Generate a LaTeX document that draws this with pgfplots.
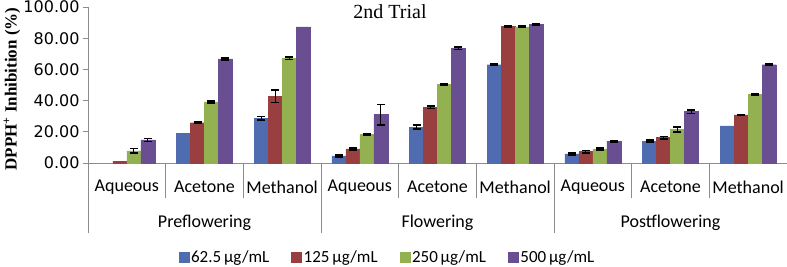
\documentclass[border=0pt]{standalone}
\usepackage{fontspec}
\setmainfont{Liberation Serif}
\newfontfamily\carlito{Carlito}
\newfontfamily\dejavu{DejaVu Sans}
\usepackage{pgfplots}
\pgfplotsset{compat=1.18}
\usepackage{pgfplotstable}
\definecolor{cA}{HTML}{4F6CB0}
\definecolor{cB}{HTML}{9A3F3F}
\definecolor{cC}{HTML}{93B151}
\definecolor{cD}{HTML}{6A4E92}
\definecolor{axgray}{HTML}{8C8C8C}
% x: 0-2 Preflowering, 3-5 Flowering, 6-8 Postflowering (Aqueous, Acetone, Methanol)
\pgfplotstableread{
x y e
1 19.0 0
2 28.6 1.2
3 4.5 0.5
4 23.0 1.3
5 63.0 0.6
6 5.8 0.6
7 14.0 0.6
8 23.8 0
}\tA
\pgfplotstableread{
x y e
0 1.2 0
1 25.8 0.4
2 42.8 4.0
3 9.0 0.5
4 35.8 0.8
5 87.4 0.6
6 7.3 0.7
7 16.3 0.8
8 30.8 0.4
}\tB
\pgfplotstableread{
x y e
0 7.8 1.5
1 39.2 0.7
2 67.2 0.9
3 18.2 0.4
4 50.2 0.4
5 87.3 0.5
6 9.0 0.5
7 21.5 1.5
8 43.8 0.6
}\tC
\pgfplotstableread{
x y e
0 14.8 1.0
1 66.7 0.5
2 87.3 0
3 31.0 6.6
4 73.5 0.7
5 88.9 0.6
6 14.0 0.5
7 32.9 1.2
8 63.0 0.6
}\tD
% error bars only where visible
\pgfplotstableread{
x y e
2 28.6 1.2
3 4.5 0.5
4 23.0 1.3
5 63.0 0.6
6 5.8 0.6
7 14.0 0.6
}\eA
\pgfplotstableread{
x y e
1 25.8 0.4
2 42.8 4.0
3 9.0 0.5
4 35.8 0.8
5 87.4 0.6
6 7.3 0.7
7 16.3 0.8
8 30.8 0.4
}\eB
\pgfplotstableread{
x y e
0 7.8 1.5
1 39.2 0.7
2 67.2 0.9
3 18.2 0.4
4 50.2 0.4
5 87.3 0.5
6 9.0 0.5
7 21.5 1.5
8 43.8 0.6
}\eC
\pgfplotstableread{
x y e
0 14.8 1.0
1 66.7 0.5
3 31.0 6.6
4 73.5 0.7
5 88.9 0.6
6 14.0 0.5
7 32.9 1.2
8 63.0 0.6
}\eD
\pgfplotsset{
  errstyle/.style={ybar, bar width=0.18, draw=none, fill=none, forget plot,
    error bars/y dir=both, error bars/y explicit,
    error bars/error bar style={draw=black, line width=1pt},
    error bars/error mark options={draw=black, rotate=90, mark size=4pt, line width=1.6pt}},
}
\begin{document}
\begin{tikzpicture}
\path[use as bounding box] (0,0) rectangle (787pt,267pt);
\begin{axis}[
  at={(88pt,104pt)}, anchor=south west,
  scale only axis, width=699pt, height=156pt,
  xmin=-0.5, xmax=8.5, ymin=0, ymax=100,
  axis x line=bottom, axis y line=left,
  axis line style={-, draw=axgray, line width=0.8pt},
  clip=false,
  ybar=0pt,
  xtick={0,...,8},
  xticklabels={Aqueous,Acetone,Methanol,Aqueous,Acetone,Methanol,Aqueous,Acetone,Methanol},
  major x tick style={draw=none},
  xticklabel style={font=\carlito\fontsize{18}{21}\selectfont, anchor=center, yshift=-19pt},
  ytick={0,20,...,100},
  tick align=outside, major tick length=5pt,
  major y tick style={draw=axgray, line width=0.8pt},
  yticklabel style={font=\dejavu\fontsize{16}{19}\selectfont, xshift=0pt},
  /pgf/number format/assume math mode=true,
  yticklabel={\pgfmathprintnumber[fixed, fixed zerofill, precision=2]{\tick}},
  ylabel={\textbf{DPPH\textsuperscript{+} Inhibition (\%)}},
  ylabel style={at={(axis description cs:-0.1087,0.474)}, anchor=center, font=\fontsize{17}{20}\selectfont},
  title={2nd Trial},
  title style={at={(axis description cs:0.432,0.93)}, anchor=center, font=\fontsize{20}{24}\selectfont},
  legend columns=4,
  legend style={at={(axis description cs:0.4285,-0.603)}, anchor=center, draw=none,
    font=\carlito\fontsize{17}{20}\selectfont,
    /tikz/every odd column/.append style={column sep=0pt},
    /tikz/every even column/.append style={column sep=20pt}},
  legend image code/.code={\fill[#1] (0pt,-5pt) rectangle (10pt,5pt);},
]
\addplot[ybar, bar width=0.18, bar shift=-0.27, fill=cA, draw=cA] table[x=x,y=y] {\tA};
\addlegendentry{62.5\,µg/mL}
\addplot[ybar, bar width=0.18, bar shift=-0.09, fill=cB, draw=cB] table[x=x,y=y] {\tB};
\addlegendentry{125\,µg/mL}
\addplot[ybar, bar width=0.18, bar shift=0.09, fill=cC, draw=cC] table[x=x,y=y] {\tC};
\addlegendentry{250\,µg/mL}
\addplot[ybar, bar width=0.18, bar shift=0.27, fill=cD, draw=cD] table[x=x,y=y] {\tD};
\addlegendentry{500\,µg/mL}
\addplot[errstyle, bar shift=-0.27] table[x=x,y=y,y error=e] {\eA};
\addplot[errstyle, bar shift=-0.09] table[x=x,y=y,y error=e] {\eB};
\addplot[errstyle, bar shift=0.09] table[x=x,y=y,y error=e] {\eC};
\addplot[errstyle, bar shift=0.27] table[x=x,y=y,y error=e] {\eD};
% category separators
\pgfplotsinvokeforeach{0.5,1.5,3.5,4.5,6.5,7.5}{
  \draw[axgray, line width=0.8pt] (axis cs:#1,0) -- ([yshift=-35pt]axis cs:#1,0);
}
\pgfplotsinvokeforeach{-0.5,2.5,5.5,8.5}{
  \draw[axgray, line width=0.8pt] (axis cs:#1,0) -- ([yshift=-70pt]axis cs:#1,0);
}
\node[font=\carlito\fontsize{18}{21}\selectfont] at (axis cs:1,0) [yshift=-60pt] {Preflowering};
\node[font=\carlito\fontsize{18}{21}\selectfont] at (axis cs:4,0) [yshift=-60pt] {Flowering};
\node[font=\carlito\fontsize{18}{21}\selectfont] at (axis cs:7,0) [yshift=-60pt] {Postflowering};
\end{axis}
\end{tikzpicture}
\end{document}
